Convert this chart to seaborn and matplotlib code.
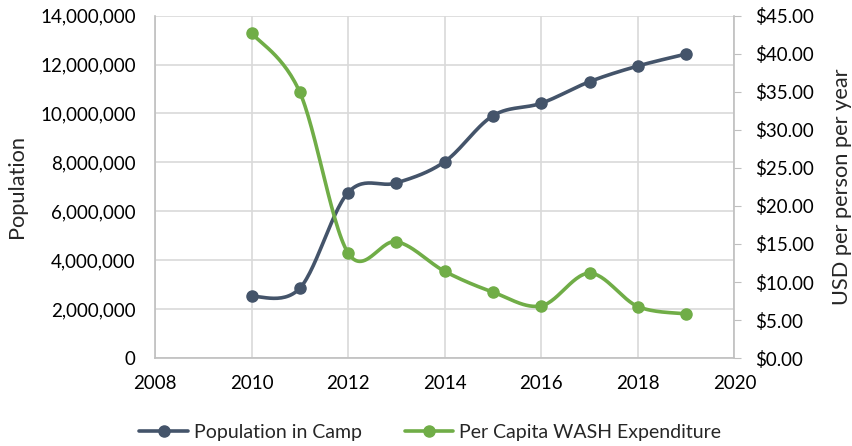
import numpy as np
import pandas as pd
import seaborn as sns
import matplotlib.pyplot as plt
from matplotlib.lines import Line2D
from matplotlib.ticker import FuncFormatter

years = [2010, 2011, 2012, 2013, 2014, 2015, 2016, 2017, 2018, 2019]
population = [2520000, 2860000, 6770000, 7160000, 8030000, 9910000,
              10420000, 11300000, 11940000, 12430000]
per_capita = [42.7, 34.9, 13.8, 15.3, 11.4, 8.67, 6.87, 11.16, 6.78, 5.82]

DARK = "#44546A"
GREEN = "#70AD47"


def smooth(x, y, n=30):
    # Catmull-Rom style bezier, like Excel's "smoothed line"
    x = np.asarray(x, float)
    y = np.asarray(y, float)
    xs, ys = [], []
    for i in range(len(x) - 1):
        p0 = (x[max(i - 1, 0)], y[max(i - 1, 0)])
        p1 = (x[i], y[i])
        p2 = (x[i + 1], y[i + 1])
        p3 = (x[min(i + 2, len(x) - 1)], y[min(i + 2, len(x) - 1)])
        c1 = (p1[0] + (p2[0] - p0[0]) / 6, p1[1] + (p2[1] - p0[1]) / 6)
        c2 = (p2[0] - (p3[0] - p1[0]) / 6, p2[1] - (p3[1] - p1[1]) / 6)
        t = np.linspace(0, 1, n)
        for k in range(2):
            b = ((1 - t) ** 3 * p1[k] + 3 * (1 - t) ** 2 * t * c1[k]
                 + 3 * (1 - t) * t ** 2 * c2[k] + t ** 3 * p2[k])
            (xs if k == 0 else ys).extend(b)
    return pd.DataFrame({"x": xs, "y": ys})


sns.set_style("white")
plt.rcParams["font.family"] = ["Lato", "DejaVu Sans"]
plt.rcParams["font.size"] = 13.5

fig = plt.figure(figsize=(8.52, 4.46), dpi=100)
ax = fig.add_axes([0.182, 0.197, 0.680, 0.768])
ax2 = ax.twinx()

sns.lineplot(data=smooth(years, population), x="x", y="y", ax=ax, color=DARK,
             lw=2.6, sort=False, estimator=None, zorder=3)
ax.plot(years, population, "o", color=DARK, ms=8, zorder=4)
sns.lineplot(data=smooth(years, per_capita), x="x", y="y", ax=ax2, color=GREEN,
             lw=2.6, sort=False, estimator=None, zorder=3)
ax2.plot(years, per_capita, "o", color=GREEN, ms=8, zorder=4)

ax.set_xlim(2008, 2020)
ax.set_ylim(0, 14e6)
ax2.set_ylim(0, 45)
ax.set_xticks(range(2008, 2021, 2))
ax.set_yticks(np.arange(0, 14e6 + 1, 2e6))
ax2.set_yticks(np.arange(0, 46, 5))
ax.yaxis.set_major_formatter(FuncFormatter(lambda v, p: f"{v:,.0f}"))
ax2.yaxis.set_major_formatter(FuncFormatter(lambda v, p: f"${v:.2f}"))

ax.grid(True, color="#d9d9d9", lw=1.2)
ax.set_axisbelow(True)
for a in (ax, ax2):
    for s in a.spines.values():
        s.set_visible(False)
    a.set_xlabel("")
    a.tick_params(colors="black", labelsize=13.5)
ax.spines["left"].set_visible(True)
ax.spines["bottom"].set_visible(True)
ax2.spines["right"].set_visible(True)
for s in (ax.spines["left"], ax.spines["bottom"], ax2.spines["right"]):
    s.set_color("#bfbfbf")
    s.set_linewidth(1.2)
ax.tick_params(axis="y", length=0, pad=14)
ax.tick_params(axis="x", length=0, pad=12)
ax2.tick_params(axis="y", length=5, color="#bfbfbf", pad=10)

ax.set_ylabel("Population", fontsize=15.7, labelpad=9)
ax2.set_ylabel("USD per person per year", fontsize=15.7, labelpad=13)

handles = [Line2D([], [], color=DARK, lw=2.6, marker="o", ms=8),
           Line2D([], [], color=GREEN, lw=2.6, marker="o", ms=8)]
fig.legend(handles, ["Population in Camp", "Per Capita WASH Expenditure"],
           loc="center", bbox_to_anchor=(0.505, 0.03), ncol=2, frameon=False,
           fontsize=14, handlelength=2.5, columnspacing=2.2, handletextpad=0.3)

fig.savefig("out.png", dpi=100)
